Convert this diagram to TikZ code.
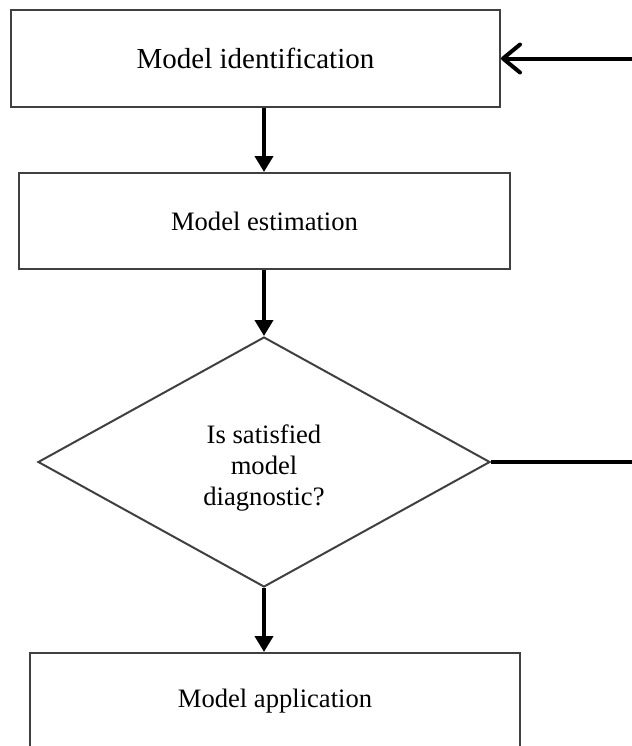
\documentclass[tikz,border=0pt]{standalone}
\usepackage{fontspec}
\setmainfont{Liberation Serif}
\usetikzlibrary{arrows.meta,shapes.geometric}

\begin{document}
\begin{tikzpicture}[x=0.5pt,y=-0.5pt,
  stage/.style={rectangle,draw=black!75,line width=1pt,inner sep=0pt,
    minimum width=245pt,minimum height=48pt,font=\fontsize{13.3}{15.5}\selectfont},
  decision/.style={diamond,draw=black!75,line width=1pt,inner sep=0pt,
    minimum width=226pt,minimum height=125pt},
  flow/.style={line width=2pt,-{Triangle[width=9pt,length=8pt]}},
  back/.style={line width=2pt,line cap=round,
    -{Straight Barb[width=14pt,length=8.5pt,line cap=round,line join=round]}}]

% ------------------------------------------------------------------
% Frame of the picture (the bottom box runs off the lower edge)
% ------------------------------------------------------------------
\clip (0,0) rectangle (632,746);

% ------------------------------------------------------------------
% Boxes and the decision
% ------------------------------------------------------------------
\node[stage,minimum width=244.5pt,minimum height=48.5pt,
  font=\fontsize{14.5}{17}\selectfont] (ident) at (255.5,58.5) {Model identification};
\node[stage,minimum width=245.5pt] (estim) at (264.5,221) {Model estimation};
\node[decision] (check) at (264,462) {};
\node[align=center,font=\fontsize{13.3}{15.5}\selectfont] (checktxt)
  at (264,468) {Is satisfied\\model\\diagnostic?};
\node[stage] (appl) at (275,701) {Model application};

% ------------------------------------------------------------------
% Loose ends at the right border
% ------------------------------------------------------------------
\coordinate (fbin)  at (640,58.5);
\coordinate (fbout) at (640,462);

% ------------------------------------------------------------------
% Connectors
% ------------------------------------------------------------------
\draw[flow] (ident.south -| check) -- (estim.north -| check);
\draw[flow] (estim.south -| check) -- (check.north);
\draw[flow] (check.south) -- (appl.north -| check.south);

\draw[line width=2pt] (check.east) -- (fbout);
\draw[back] (fbin) -- (ident.east);

\end{tikzpicture}
\end{document}
